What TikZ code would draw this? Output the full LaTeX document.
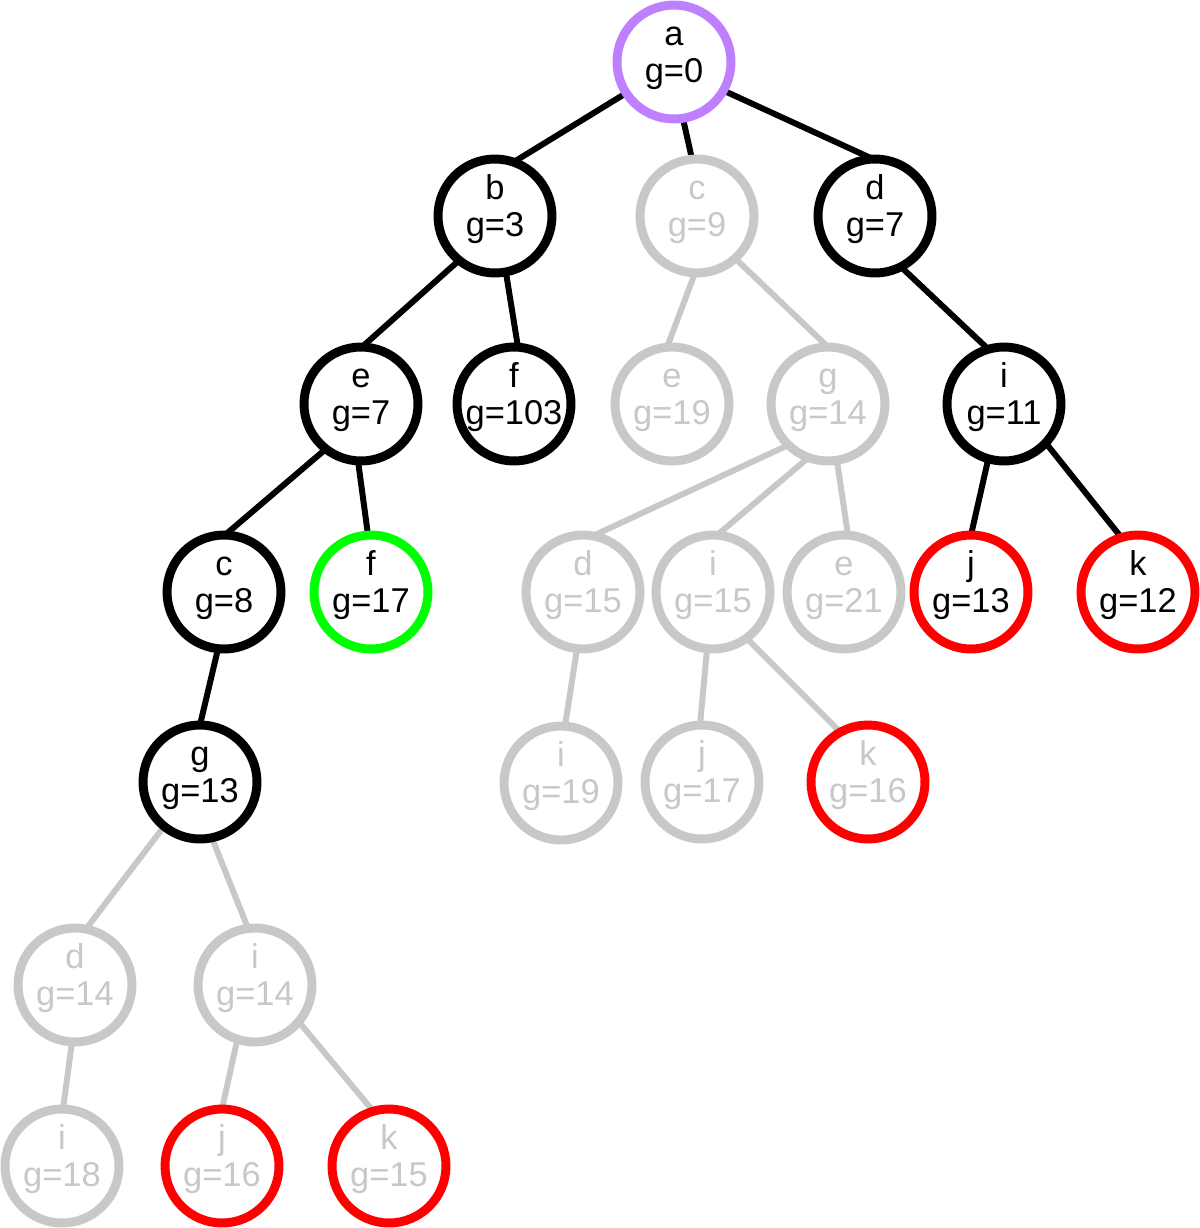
\documentclass[tikz,border=0pt]{standalone}
\usepackage{fontspec}
\setmainfont{Liberation Sans}
\usepackage{xcolor}
\usepackage{tikz}
\usetikzlibrary{backgrounds}
\definecolor{rootpurple}{RGB}{191,128,255}
\definecolor{fadegray}{RGB}{200,200,200}
\definecolor{cutred}{RGB}{255,0,0}
\definecolor{goalgreen}{RGB}{0,255,0}
\tikzset{
    vertex/.style={
        circle,
        line width=5.1pt,
        minimum size=2.28cm,
        inner sep=0pt,
        outer sep=0pt,
        fill=white,
        align=center,
        font=\fontsize{19.6}{21.3}\selectfont,
        text height=0.96cm,
        text depth=0.14cm,
    },
    expanded/.style={
        vertex,
        draw=black,
    },
    root/.style={
        vertex,
        draw=rootpurple,
    },
    goal/.style={
        vertex,
        draw=goalgreen,
    },
    cutoff/.style={
        vertex,
        draw=cutred,
    },
    faded/.style={
        vertex,
        draw=fadegray,
        text=fadegray,
    },
    branch/.style={
        line width=3.4pt,
        draw=black,
    },
    faded branch/.style={
        line width=3.4pt,
        draw=fadegray,
    },
}

\begin{document}
\begin{tikzpicture}[x=0.02cm,y=-0.02cm]
    \useasboundingbox (0,0) rectangle (1200,1228);

    \node [root] (a) at (674,62) {a\\g=0};

    \node [expanded] (ab) at (495,216) {b\\g=3};
    \node [faded] (ac) at (697,216) {c\\g=9};
    \node [expanded] (ad) at (875,216) {d\\g=7};

    \node [expanded] (abe) at (361,404) {e\\g=7};
    \node [expanded] (abf) at (514,404) {f\\g=103};
    \node [faded] (ace) at (672,404) {e\\g=19};
    \node [faded] (acg) at (828,404) {g\\g=14};
    \node [expanded] (adi) at (1004,404) {i\\g=11};

    \node [expanded] (abec) at (224,592) {c\\g=8};
    \node [goal] (abef) at (371,592) {f\\g=17};
    \node [faded] (acgd) at (583,592) {d\\g=15};
    \node [faded] (acgi) at (713,592) {i\\g=15};
    \node [faded] (acge) at (844,592) {e\\g=21};
    \node [cutoff] (adij) at (971,592) {j\\g=13};
    \node [cutoff] (adik) at (1138,592) {k\\g=12};

    \node [expanded] (abecg) at (200,782) {g\\g=13};
    \node [faded] (acgdi) at (561,783) {i\\g=19};
    \node [faded] (acgij) at (702,782) {j\\g=17};
    \node [faded, draw=cutred] (acgik) at (868,782) {k\\g=16};

    \node [faded] (abecgd) at (75,985) {d\\g=14};
    \node [faded] (abecgi) at (255,985) {i\\g=14};

    \node [faded] (abecgdi) at (62,1166) {i\\g=18};
    \node [faded, draw=cutred] (abecgij) at (222,1166) {j\\g=16};
    \node [faded, draw=cutred] (abecgik) at (389,1166) {k\\g=15};

    \begin{scope}[on background layer]
        \draw [branch] (a.213) -- (ab.71);
        \draw [branch] (a.279) -- (ac.95);
        \draw [branch] (a.330) -- (ad.92);
        \draw [branch] (ab.231) -- (abe.89);
        \draw [branch] (ab.281) -- (abf.86);
        \draw [branch] (ad.297) -- (adi.106);
        \draw [branch] (abe.232) -- (abec.89);
        \draw [branch] (abe.267) -- (abef.93);
        \draw [branch] (adi.254) -- (adij.90);
        \draw [branch] (adi.317) -- (adik.107);
        \draw [branch] (abec.264) -- (abecg.90);

        \draw [faded branch] (ac.268) -- (ace.95);
        \draw [faded branch] (ac.312) -- (acg.90);
        \draw [faded branch] (acg.226) -- (acgd.80);
        \draw [faded branch] (acg.250) -- (acgi.86);
        \draw [faded branch] (acg.279) -- (acge.86);
        \draw [faded branch] (acgd.264) -- (acgdi.86);
        \draw [faded branch] (acgi.264) -- (acgij.92);
        \draw [faded branch] (acgi.306) -- (acgik.119);
        \draw [faded branch] (abecg.231) -- (abecgd.79);
        \draw [faded branch] (abecg.282) -- (abecgi.97);
        \draw [faded branch] (abecgd.267) -- (abecgdi.89);
        \draw [faded branch] (abecgi.252) -- (abecgij.90);
        \draw [faded branch] (abecgi.320) -- (abecgik.106);
    \end{scope}
\end{tikzpicture}
\end{document}
